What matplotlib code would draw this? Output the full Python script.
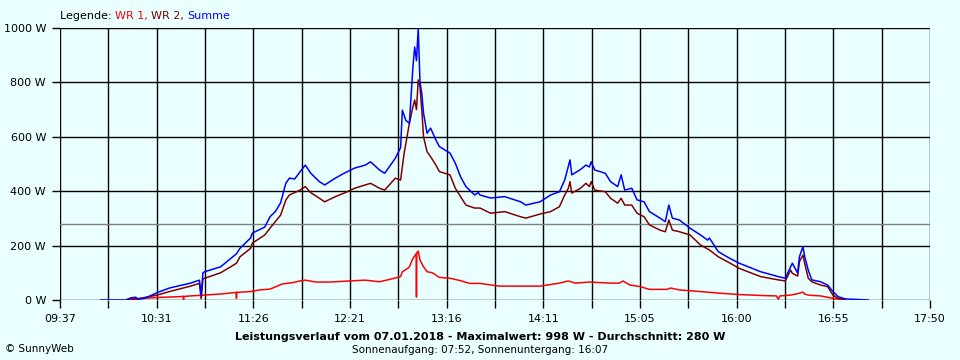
import numpy as np
import matplotlib
matplotlib.use("Agg")
import matplotlib.pyplot as plt

# Summe (blue)
sum_times = ["10:00", "10:15", "10:17", "10:20", "10:21", "10:25", "10:32", "10:39", "10:51", "10:56",
             "10:57", "10:58", "10:59", "11:08", "11:17", "11:19", "11:25", "11:26", "11:33", "11:36",
             "11:39", "11:42", "11:45", "11:47", "11:50", "11:53", "11:56", "11:59", "12:04", "12:07",
             "12:13", "12:18", "12:24", "12:30", "12:33", "12:38", "12:41", "12:47", "12:50", "12:51",
             "12:53", "12:55", "12:57", "12:58", "12:59", "13:00", "13:01", "13:02", "13:03", "13:05",
             "13:07", "13:10", "13:12", "13:18", "13:21", "13:24", "13:27", "13:32", "13:34", "13:35",
             "13:41", "13:49", "13:58", "14:01", "14:09", "14:15", "14:20", "14:23", "14:25", "14:26",
             "14:27", "14:32", "14:35", "14:37", "14:38", "14:40", "14:46", "14:49", "14:53", "14:55",
             "14:57", "15:01", "15:04", "15:08", "15:11", "15:17", "15:20", "15:22", "15:24", "15:28",
             "15:34", "15:40", "15:44", "15:45", "15:50", "15:56", "16:02", "16:14", "16:24", "16:28",
             "16:31", "16:32", "16:35", "16:36", "16:38", "16:39", "16:41", "16:43", "16:48", "16:52",
             "16:55", "16:58", "17:02", "17:15"]
sum_w = [0, 0, 8, 10, 3, 6, 27, 44, 62, 73,
         18, 100, 104, 122, 170, 190, 228, 246, 268, 306,
         325, 357, 430, 448, 445, 471, 496, 467, 435, 423,
         448, 466, 485, 496, 508, 478, 466, 521, 560, 698,
         660, 650, 858, 930, 880, 998, 800, 760, 687, 613,
         632, 588, 564, 540, 503, 453, 417, 386, 395, 386,
         375, 380, 361, 349, 361, 386, 398, 441, 490, 515,
         460, 480, 496, 489, 508, 478, 466, 435, 417, 460,
         404, 411, 368, 361, 325, 301, 288, 349, 301, 294,
         264, 239, 220, 228, 178, 155, 135, 104, 86, 80,
         122, 135, 99, 159, 196, 159, 110, 74, 67, 55,
         31, 12, 4, 0]

# WR 2 (dark red)
wr2_times = ["10:15", "10:20", "10:32", "10:39", "10:51", "10:56", "10:57", "10:58", "10:59", "11:08",
             "11:17", "11:19", "11:25", "11:26", "11:33", "11:36", "11:42", "11:45", "11:47", "11:53",
             "11:56", "11:59", "12:04", "12:07", "12:13", "12:18", "12:24", "12:30", "12:33", "12:38",
             "12:41", "12:47", "12:50", "12:52", "12:55", "12:57", "12:58", "12:59", "13:00", "13:01",
             "13:02", "13:03", "13:05", "13:07", "13:10", "13:12", "13:18", "13:21", "13:24", "13:27",
             "13:32", "13:35", "13:41", "13:49", "13:58", "14:01", "14:09", "14:15", "14:20", "14:23",
             "14:25", "14:26", "14:27", "14:32", "14:35", "14:37", "14:38", "14:40", "14:46", "14:49",
             "14:53", "14:55", "14:57", "15:01", "15:04", "15:08", "15:11", "15:17", "15:20", "15:22",
             "15:24", "15:28", "15:34", "15:40", "15:45", "15:50", "15:56", "16:02", "16:14", "16:24",
             "16:28", "16:31", "16:32", "16:35", "16:36", "16:38", "16:39", "16:41", "16:43", "16:48",
             "16:52", "16:55", "16:58", "17:02"]
wr2_w = [0, 3, 18, 31, 51, 61, 5, 78, 80, 100,
         135, 159, 190, 209, 239, 264, 312, 368, 386, 404,
         417, 395, 374, 361, 380, 393, 411, 423, 429, 411,
         404, 448, 441, 539, 650, 711, 735, 700, 809, 784,
         700, 600, 545, 527, 496, 472, 460, 411, 380, 349,
         338, 338, 319, 325, 306, 301, 316, 325, 343, 386,
         410, 435, 393, 411, 429, 417, 435, 404, 398, 374,
         356, 374, 349, 349, 319, 306, 276, 257, 251, 294,
         257, 251, 239, 202, 184, 159, 138, 116, 86, 74,
         70, 110, 98, 88, 141, 165, 135, 80, 67, 55,
         49, 18, 6, 0]

# WR 1 (red)
wr1_times = ["10:15", "10:32", "10:47", "10:47", "10:47", "10:51", "10:56", "11:08", "11:17", "11:17",
             "11:17", "11:25", "11:30", "11:36", "11:43", "11:49", "11:53", "11:56", "12:02", "12:10",
             "12:21", "12:30", "12:38", "12:44", "12:50", "12:51", "12:54", "12:55", "12:57", "12:59",
             "12:59", "12:59", "13:00", "13:01", "13:03", "13:05", "13:08", "13:12", "13:18", "13:24",
             "13:29", "13:35", "13:46", "14:09", "14:20", "14:25", "14:29", "14:37", "14:49", "14:54",
             "14:56", "15:00", "15:06", "15:11", "15:21", "15:23", "15:26", "15:28", "15:40", "15:51",
             "16:02", "16:17", "16:23", "16:24", "16:25", "16:31", "16:34", "16:36", "16:38", "16:39",
             "16:41", "16:48", "16:55", "16:59", "17:02"]
wr1_w = [3, 9, 13, 1, 13, 15, 17, 22, 28, 6,
         28, 31, 37, 40, 59, 64, 70, 73, 66, 66,
         70, 73, 67, 76, 86, 104, 116, 122, 153, 171,
         12, 171, 180, 147, 122, 104, 100, 83, 80, 71,
         61, 61, 51, 51, 62, 70, 62, 66, 62, 62,
         70, 55, 49, 39, 39, 44, 40, 37, 31, 25,
         20, 16, 15, 3, 15, 18, 22, 25, 29, 22,
         18, 15, 6, 2, 0]

average_w = 280
x_labels = ["09:37", "10:31", "11:26", "12:21", "13:16", "14:11", "15:05", "16:00", "16:55", "17:50"]
y_ticks = [0, 200, 400, 600, 800, 1000]


def to_min(s):
    h, m = s.split(":")
    return int(h) * 60 + int(m)


bg = "#eaffff"
fig = plt.figure(figsize=(9.6, 3.6), dpi=100, facecolor=bg)
ax = fig.add_axes([60 / 960, 60 / 360, 870 / 960, 272 / 360], facecolor=bg)

x0, x1 = to_min(x_labels[0]), to_min(x_labels[-1])
ax.set_xlim(x0, x1)
ax.set_ylim(0, 1000)

xgrid = np.linspace(x0, x1, 19)
for xv in xgrid:
    ax.axvline(xv, color="black", lw=1, zorder=1)
for yv in y_ticks:
    ax.axhline(yv, color="black", lw=1, zorder=1)
ax.axhline(average_w, color="#808080", lw=1, zorder=1)

ax.plot([to_min(t) for t in wr1_times], wr1_w, color="#ff0000", lw=1.1, zorder=3)
ax.plot([to_min(t) for t in wr2_times], wr2_w, color="#800000", lw=1.1, zorder=4)
ax.plot([to_min(t) for t in sum_times], sum_w, color="#0000ff", lw=1.1, zorder=5)

ax.set_xticks(xgrid)
ax.set_xticklabels([x_labels[i // 2] if i % 2 == 0 else "" for i in range(len(xgrid))])
ax.set_yticks(y_ticks)
ax.set_yticklabels([f"{v} W" for v in y_ticks])
ax.tick_params(axis="both", length=6, width=1, color="black", labelsize=8, pad=4)
for s in ax.spines.values():
    s.set_visible(False)

# legend line above the plot, pieces chained one after another
prev = fig.text(60 / 960, 1 - 16 / 360, "Legende: ", fontsize=8, color="black", va="center")
legend_parts = [("WR 1, ", "#ff0000"), ("WR 2, ", "#800000"), ("Summe", "#0000ff")]
for txt, col in legend_parts:
    prev = fig.text(0, 0, txt, fontsize=8, color=col, va="center")
    prev_pos = None
fig.canvas.draw()
texts = fig.texts[:4]
r = fig.canvas.get_renderer()
xcur = texts[0].get_window_extent(r).x1
for t in texts[1:]:
    t.set_position((xcur / 960, 1 - 16 / 360))
    xcur += t.get_window_extent(r).width

fig.text(0.5, 1 - 337 / 360,
         "Leistungsverlauf vom 07.01.2018 - Maximalwert: 998 W - Durchschnitt: 280 W",
         fontsize=8, fontweight="bold", ha="center", va="center")
fig.text(0.5, 1 - 350 / 360, "Sonnenaufgang: 07:52, Sonnenuntergang: 16:07",
         fontsize=7.5, ha="center", va="center")
fig.text(5 / 960, 1 - 349 / 360, "\u00a9 SunnyWeb", fontsize=7.5, ha="left", va="center")

fig.savefig("out.png", dpi=100, facecolor=bg)
